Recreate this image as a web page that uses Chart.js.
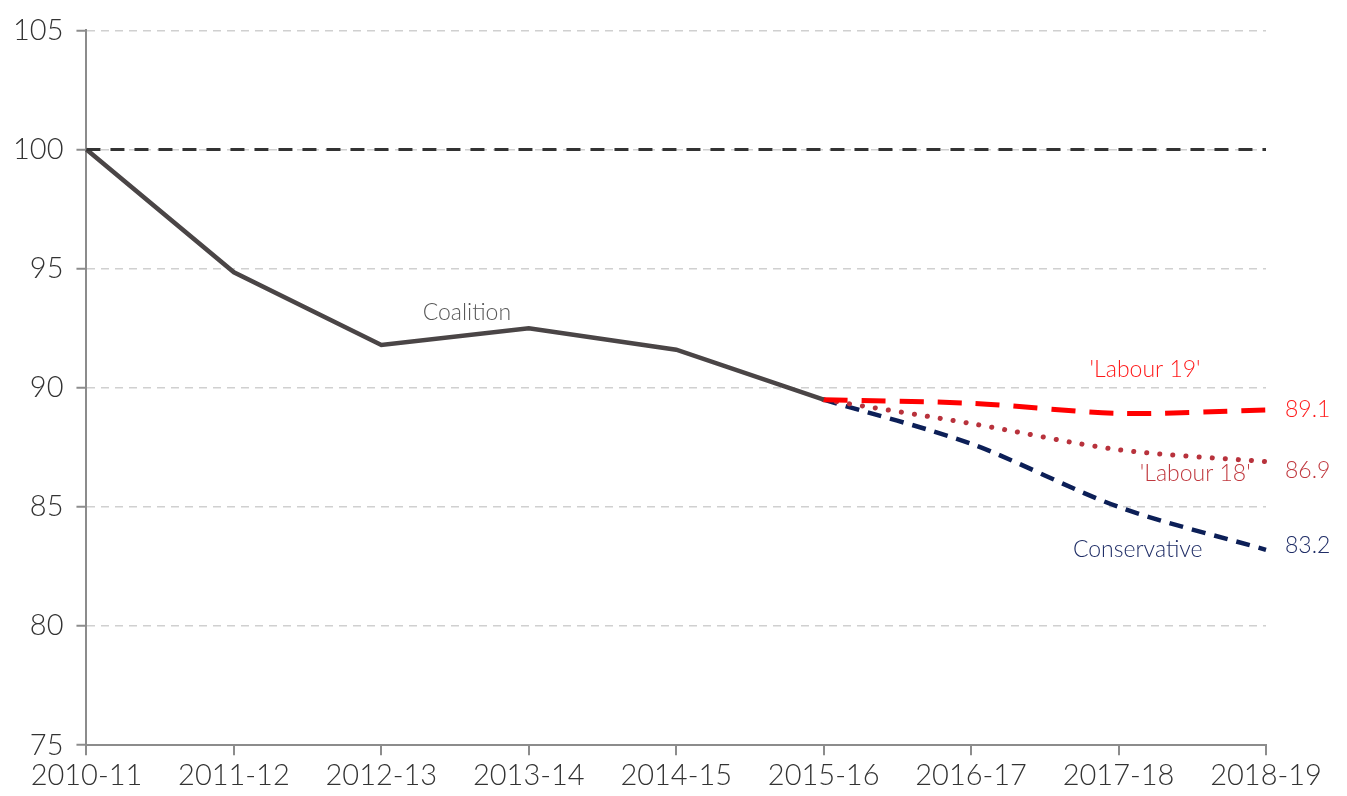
<!DOCTYPE html>
<html>
<head>
<meta charset="utf-8">
<script src="https://cdn.jsdelivr.net/npm/chart.js@4"></script>
<style>
  html, body { margin: 0; padding: 0; background: #fff; }
  #wrap { width: 1347px; height: 796px; }
</style>
</head>
<body>
<div id="wrap"><canvas id="canvas" width="1347" height="796"></canvas></div>
<script>
// years on the x axis
const years = ['2010-11', '2011-12', '2012-13', '2013-14', '2014-15', '2015-16', '2016-17', '2017-18', '2018-19'];

// index, 2010-11 = 100
const baseline = [100, 100, 100, 100, 100, 100, 100, 100, 100];
const coalition = [100, 94.85, 91.8, 92.5, 91.6, 89.5, null, null, null];
const labour19 = [null, null, null, null, null, 89.5, 89.35, 88.93, 89.07];
const labour18 = [null, null, null, null, null, 89.5, 88.5, 87.4, 86.9];
const conservative = [null, null, null, null, null, 89.5, 87.65, 85.0, 83.2];

const yTicks = [75, 80, 85, 90, 95, 100, 105];

// text drawn next to the lines: [text, x index, y value, dx, dy, colour, align]
const notes = [
  ['Coalition', 2.58, 92.5, 0, -16, '#595959', 'center'],
  ["'Labour 19'", 7.18, 89.5, 0, -30, '#ff1a1a', 'center'],
  ["'Labour 18'", 7.52, 86.9, 0, 12, '#c0393f', 'center'],
  ['Conservative', 7.13, 83.2, 0, 0, '#1f2d66', 'center'],
  ['89.1', 8, 89.07, 19, 0, '#ff1a1a', 'left'],
  ['86.9', 8, 86.9, 19, 9, '#c0393f', 'left'],
  ['83.2', 8, 83.2, 19, -4, '#1f2d66', 'left']
];

const noteLabels = {
  id: 'noteLabels',
  afterDatasetsDraw(chart) {
    const ctx = chart.ctx;
    const xs = chart.scales.x, ys = chart.scales.y;
    ctx.save();
    ctx.font = '300 23px Lato';
    ctx.textBaseline = 'middle';
    notes.forEach(n => {
      const x0 = xs.getPixelForValue(0), x1 = xs.getPixelForValue(1);
      const px = x0 + (x1 - x0) * n[1] + n[3];
      const py = ys.getPixelForValue(n[2]) + n[4];
      ctx.fillStyle = n[5];
      ctx.textAlign = n[6];
      ctx.fillText(n[0], px, py);
    });
    ctx.restore();
  }
};

const chart = new Chart(document.getElementById('canvas'), {
  type: 'line',
  data: {
    labels: years,
    datasets: [
      { label: 'base', data: baseline, borderColor: '#333333', borderWidth: 3, borderDash: [14, 10], pointRadius: 0 },
      { label: 'Coalition', data: coalition, borderColor: '#4a4546', borderWidth: 4.5, pointRadius: 0 },
      { label: "'Labour 19'", data: labour19, borderColor: '#ff0000', borderWidth: 5, borderDash: [24, 14], pointRadius: 0, tension: 0.3 },
      { label: "'Labour 18'", data: labour18, borderColor: '#b8323c', borderWidth: 5, borderDash: [0.1, 13], borderCapStyle: 'round', pointRadius: 0, tension: 0.3 },
      { label: 'Conservative', data: conservative, borderColor: '#0c1f57', borderWidth: 4.5, borderDash: [14, 9], pointRadius: 0, tension: 0.3 }
    ]
  },
  options: {
    responsive: false,
    animation: false,
    spanGaps: false,
    layout: { padding: { top: 0, right: 81, left: 0, bottom: 0 } },
    plugins: { legend: { display: false }, tooltip: { enabled: false } },
    scales: {
      x: {
        offset: false,
        grid: { display: true, drawOnChartArea: false, drawTicks: true, tickLength: 10, color: '#8c8c8c', lineWidth: 2 },
        border: { display: true, color: '#8c8c8c', width: 2 },
        ticks: { color: '#333333', font: { family: 'Lato', size: 29, weight: '300' }, padding: 3, maxRotation: 0, autoSkip: false }
      },
      y: {
        min: 75, max: 105,
        afterBuildTicks(axis) { axis.ticks = yTicks.map(v => ({ value: v })); },
        grid: { color: '#d0d0d0', lineWidth: 1.5, tickLength: 10, tickColor: '#8c8c8c', tickWidth: 2 },
        border: { display: true, color: '#8c8c8c', width: 2, dash: [8, 6] },
        ticks: { color: '#333333', font: { family: 'Lato', size: 29, weight: '300' }, padding: 13 }
      }
    }
  },
  plugins: [noteLabels]
});
</script>
</body>
</html>
